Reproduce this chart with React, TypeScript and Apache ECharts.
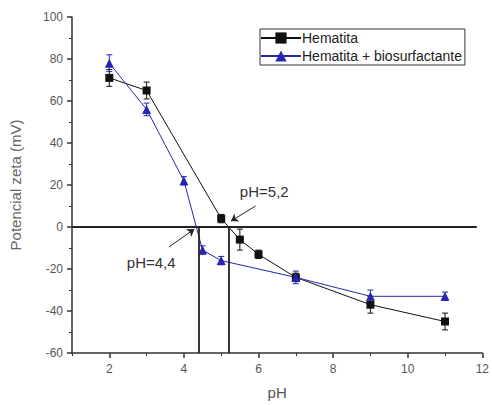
import React, { useEffect, useRef } from "react";
import * as echarts from "echarts";

const phHem = [2, 3, 5, 5.5, 6, 7, 9, 11];
const zetaHem = [71, 65, 4, -6, -13, -24, -37, -45];
const errHem = [4, 4, 2, 5, 2, 2, 4, 4];

const phBio = [2, 3, 4, 4.5, 5, 7, 9, 11];
const zetaBio = [78, 56, 22, -11, -16, -24, -33, -33];
const errBio = [4, 3, 2, 2, 2, 3, 3, 2];

const xMajor = [2, 4, 6, 8, 10, 12];
const xMinor = [1, 3, 5, 7, 9, 11];

const pzc = [4.4, 5.2];
const pzcLabels = ["pH=4,4", "pH=5,2"];

const BLUE = "#2626b0";
const GRAY = "#555";

function errSeries(xs: number[], ys: number[], es: number[], color: string) {
  const data = xs.map((x, i) => [x, ys[i] - es[i], ys[i] + es[i]]);
  return {
    type: "custom",
    silent: true,
    z: 1,
    data,
    renderItem: (params: any, api: any) => {
      const x = api.value(0);
      const lo = api.coord([x, api.value(1)]);
      const hi = api.coord([x, api.value(2)]);
      const w = 3;
      const st = { stroke: color, lineWidth: 1 };
      return {
        type: "group",
        children: [
          { type: "line", shape: { x1: lo[0], y1: lo[1], x2: hi[0], y2: hi[1] }, style: st },
          { type: "line", shape: { x1: lo[0] - w, y1: lo[1], x2: lo[0] + w, y2: lo[1] }, style: st },
          { type: "line", shape: { x1: hi[0] - w, y1: hi[1], x2: hi[0] + w, y2: hi[1] }, style: st },
        ],
      };
    },
  };
}

export default function App() {
  const ref = useRef<HTMLDivElement>(null);
  useEffect(() => {
    const chart = echarts.init(ref.current!, null, { renderer: "svg" });
    const font = "Liberation Sans, Arial, sans-serif";
    chart.setOption({
      animation: false,
      textStyle: { fontFamily: font },
      grid: { left: 71, right: 3, top: 17, bottom: 51, containLabel: false },
      legend: {
        left: 260,
        top: 29,
        orient: "vertical",
        borderColor: "#333",
        borderWidth: 1,
        borderRadius: 0,
        padding: [2, 3, 2, 0],
        itemGap: 4,
        itemWidth: 40,
        itemHeight: 14,
        textStyle: { fontSize: 14, color: "#222", fontFamily: font, padding: [0, 0, 0, -4] },
        data: ["Hematita", "Hematita + biosurfactante"],
      },
      xAxis: [
        {
          type: "value",
          min: 1,
          max: 12,
          name: "pH",
          nameLocation: "middle",
          nameGap: 32,
          nameTextStyle: { fontSize: 15, color: GRAY, fontFamily: font },
          axisLine: { show: true, onZero: false, lineStyle: { color: "#333", width: 1.5 } },
          axisTick: { show: true, length: 5, customValues: xMajor, lineStyle: { color: "#333", width: 1.5 } },
          axisLabel: { customValues: xMajor, fontSize: 12, color: GRAY, margin: 10, fontFamily: font },
          splitLine: { show: false },
        },
        {
          type: "value",
          min: 1,
          max: 12,
          position: "bottom",
          axisLine: { show: false, onZero: false },
          axisTick: { show: true, length: 3, customValues: xMinor, lineStyle: { color: "#333" } },
          axisLabel: { show: false },
          splitLine: { show: false },
        },
      ],
      yAxis: {
        type: "value",
        min: -60,
        max: 100,
        interval: 20,
        name: "Potencial zeta (mV)",
        nameLocation: "middle",
        nameGap: 49,
        nameTextStyle: { fontSize: 15, color: "#666", fontFamily: font },
        axisLine: { show: true, onZero: false, lineStyle: { color: "#333", width: 1.5 } },
        axisTick: { show: true, length: 5, lineStyle: { color: "#333", width: 1.5 } },
        minorTick: { show: true, splitNumber: 2, length: 3, lineStyle: { color: "#333" } },
        axisLabel: { fontSize: 12, color: GRAY, margin: 9, fontFamily: font },
        splitLine: { show: false },
      },
      series: [
        errSeries(phHem, zetaHem, errHem, "#111"),
        errSeries(phBio, zetaBio, errBio, BLUE),
        {
          name: "Hematita",
          type: "line",
          data: phHem.map((x, i) => [x, zetaHem[i]]),
          symbol: "rect",
          symbolSize: 8,
          lineStyle: { color: "#111", width: 1 },
          itemStyle: { color: "#111" },
          z: 3,
          markLine: {
            silent: true,
            symbol: ["none", "none"],
            label: { show: false },
            lineStyle: { color: "#222", width: 1.8, type: "solid" },
            data: [
              [{ coord: [1, 0] }, { coord: [11.85, 0] }],
              [{ coord: [pzc[0], 0] }, { coord: [pzc[0], -60] }],
              [{ coord: [pzc[1], 0] }, { coord: [pzc[1], -60] }],
            ],
          },
        },
        {
          name: "Hematita + biosurfactante",
          type: "line",
          data: phBio.map((x, i) => [x, zetaBio[i]]),
          symbol: "triangle",
          symbolSize: 9,
          lineStyle: { color: BLUE, width: 1 },
          itemStyle: { color: BLUE },
          z: 3,
          markLine: {
            silent: true,
            symbol: ["none", "arrow"],
            symbolSize: 7,
            label: { show: false },
            lineStyle: { color: "#222", width: 1, type: "solid" },
            data: [
              [{ coord: [3.6, -9.5] }, { coord: [pzc[0] - 0.12, -1] }],
              [{ coord: [5.92, 10] }, { coord: [pzc[1] + 0.06, 2.8] }],
            ],
          },
          markPoint: {
            silent: true,
            symbol: "circle",
            symbolSize: 0,
            data: [
              {
                coord: [2.47, -17],
                label: { show: true, formatter: pzcLabels[0], position: "right", distance: 0, fontSize: 15, color: "#333", fontFamily: font },
              },
              {
                coord: [5.5, 16.7],
                label: { show: true, formatter: pzcLabels[1], position: "right", distance: 0, fontSize: 15, color: "#333", fontFamily: font },
              },
            ],
          },
        },
      ],
    });
    return () => chart.dispose();
  }, []);
  return <div ref={ref} style={{ width: 492, height: 405, position: "absolute", left: 0, top: 0 }} />;
}
